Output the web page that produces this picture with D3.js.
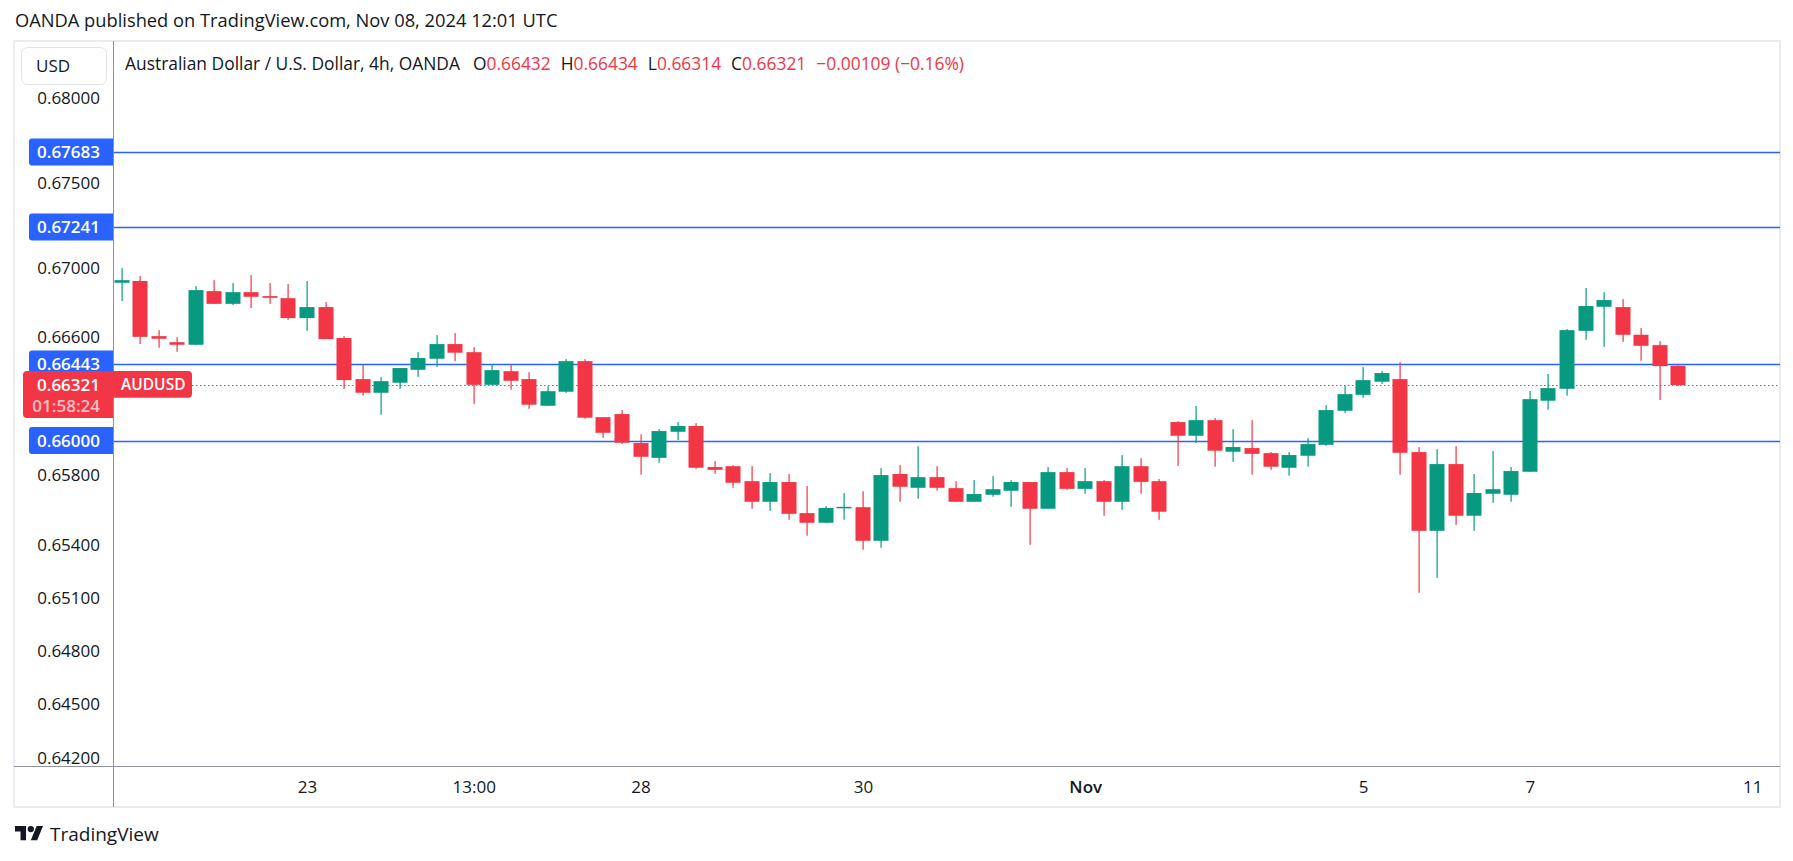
<!DOCTYPE html>
<html><head><meta charset="utf-8">
<script src="https://cdn.jsdelivr.net/npm/d3@7"></script>
<style>
html,body{margin:0;padding:0;background:#fff;}
svg{display:block;}
text{font-family:"Open Sans", Roboto, sans-serif;}
</style></head><body>
<svg id="chart" width="1793" height="861"></svg>
<script>
// ---------------- DATA ----------------
const open  = [0.66915,0.66925,0.66604,0.66569,0.66554,0.66866,0.66792,0.66860,0.66837,0.66825,
0.66709,0.66773,0.66593,0.66355,0.66276,0.66334,0.66409,0.66473,0.66558,0.66511,
0.66322,0.66401,0.66355,0.66201,0.66282,0.66459,0.66135,0.66153,0.65986,0.65901,
0.66051,0.66084,0.65848,0.65853,0.65767,0.65649,0.65762,0.65584,0.65529,0.65614,
0.65618,0.65426,0.65808,0.65729,0.65790,0.65727,0.65649,0.65689,0.65712,0.65762,
0.65609,0.65819,0.65723,0.65767,0.65649,0.65853,0.65767,0.66107,0.66028,0.66118,
0.65936,0.65957,0.65928,0.65844,0.65913,0.65976,0.66172,0.66264,0.66340,0.66355,
0.65934,0.65483,0.65865,0.65569,0.65695,0.65689,0.65821,0.66230,0.66299,0.66635,
0.66775,0.66773,0.66612,0.66552,0.66432];
const high  = [0.67000,0.66954,0.66639,0.66598,0.66895,0.66930,0.66913,0.66960,0.66913,0.66907,
0.66925,0.66802,0.66604,0.66436,0.66367,0.66419,0.66511,0.66610,0.66622,0.66540,
0.66442,0.66442,0.66395,0.66314,0.66471,0.66471,0.66135,0.66176,0.66037,0.66066,
0.66107,0.66101,0.65882,0.65859,0.65853,0.65813,0.65808,0.65739,0.65624,0.65699,
0.65710,0.65842,0.65859,0.65968,0.65853,0.65767,0.65773,0.65796,0.65773,0.65762,
0.65848,0.65842,0.65842,0.65773,0.65917,0.65899,0.65779,0.66112,0.66199,0.66130,
0.66066,0.66118,0.65934,0.65934,0.66014,0.66205,0.66315,0.66425,0.66401,0.66453,
0.65963,0.65951,0.65968,0.65808,0.65940,0.65848,0.66286,0.66384,0.66645,0.66884,
0.66860,0.66820,0.66651,0.66575,0.66434];
const low   = [0.66808,0.66558,0.66537,0.66513,0.66553,0.66791,0.66785,0.66767,0.66792,0.66699,
0.66635,0.66587,0.66299,0.66259,0.66149,0.66299,0.66368,0.66426,0.66459,0.66212,
0.66322,0.66293,0.66183,0.66201,0.66276,0.66126,0.66016,0.65980,0.65804,0.65873,
0.66003,0.65838,0.65809,0.65729,0.65609,0.65597,0.65546,0.65455,0.65529,0.65546,
0.65375,0.65386,0.65649,0.65666,0.65712,0.65649,0.65649,0.65678,0.65620,0.65403,
0.65609,0.65718,0.65695,0.65569,0.65603,0.65695,0.65546,0.65855,0.65988,0.65850,
0.65878,0.65804,0.65832,0.65798,0.65850,0.65970,0.66160,0.66247,0.66328,0.65804,
0.65130,0.65215,0.65517,0.65483,0.65643,0.65649,0.65821,0.66178,0.66259,0.66583,
0.66542,0.66571,0.66461,0.66234,0.66314];
const close = [0.66930,0.66600,0.66589,0.66554,0.66872,0.66792,0.66860,0.66833,0.66827,0.66709,
0.66773,0.66587,0.66349,0.66276,0.66343,0.66419,0.66477,0.66558,0.66508,0.66322,
0.66407,0.66345,0.66207,0.66285,0.66459,0.66132,0.66045,0.65988,0.65907,0.66055,
0.66084,0.65844,0.65832,0.65758,0.65649,0.65762,0.65580,0.65529,0.65613,0.65620,
0.65426,0.65802,0.65735,0.65790,0.65729,0.65649,0.65693,0.65721,0.65762,0.65609,
0.65819,0.65723,0.65767,0.65649,0.65853,0.65763,0.65592,0.66028,0.66118,0.65942,
0.65963,0.65924,0.65850,0.65917,0.65980,0.66176,0.66268,0.66349,0.66390,0.65930,
0.65483,0.65865,0.65569,0.65699,0.65721,0.65825,0.66239,0.66303,0.66639,0.66779,
0.66814,0.66612,0.66548,0.66430,0.66321];

const priceLevels = [0.67683, 0.67241, 0.66443, 0.66000];
const yTickValues = [0.680, 0.675, 0.670, 0.666, 0.658, 0.654, 0.651, 0.648, 0.645, 0.642];
const xTickLabels = ["23", "13:00", "28", "30", "Nov", "5", "7", "11"];
const xTickBars   = [10, 19, 28, 40, 52, 67, 76, 88];
const symbolTitle = "Australian Dollar / U.S. Dollar, 4h, OANDA";
const headerText  = "OANDA published on TradingView.com, Nov 08, 2024 12:01 UTC";
const symbolTag   = "AUDUSD";
const countdown   = "01:58:24";
const currency    = "USD";

// ---------------- LAYOUT ----------------
const RED = "#f23645", GREEN = "#089981", BLUE = "#2962ff", INK = "#131722";
const svg = d3.select("#chart");
const frame = {left: 14, top: 41, right: 1780, bottom: 807};
const plot  = {left: 113, top: 41, right: 1780, bottom: 766};

const y = d3.scaleLog().domain([0.642, 0.680]).range([757.7, 98.3]);
const x = d3.scaleLinear().domain([0, 84]).range([121.7, 1678.2]);
const bodyW = 15;

svg.append("rect").attr("width", 1793).attr("height", 861).attr("fill", "#fff");

// header
svg.append("text").attr("x", 15).attr("y", 21).attr("dy", "0.35em")
  .attr("font-size", 18.3).attr("fill", INK).text(headerText);

// frame
svg.append("rect").attr("x", frame.left).attr("y", frame.top)
  .attr("width", frame.right - frame.left).attr("height", frame.bottom - frame.top)
  .attr("fill", "none").attr("stroke", "#e9ebf1").attr("stroke-width", 2);

// clip
svg.append("clipPath").attr("id", "plotclip").append("rect")
  .attr("x", plot.left).attr("y", plot.top).attr("width", plot.right - plot.left).attr("height", plot.bottom - plot.top);
const pg = svg.append("g").attr("clip-path", "url(#plotclip)");

// level lines
pg.selectAll("line.level").data(priceLevels).join("line").attr("class", "level")
  .attr("x1", plot.left).attr("x2", plot.right)
  .attr("y1", d => Math.round(y(d)) + 0.5).attr("y2", d => Math.round(y(d)) + 0.5)
  .attr("stroke", BLUE).attr("stroke-width", 1.3);

// current price dotted line
const last = close.length - 1;
const cy = y(close[last]);
pg.append("line").attr("x1", 192).attr("x2", plot.right)
  .attr("y1", Math.round(cy) + 0.5).attr("y2", Math.round(cy) + 0.5)
  .attr("stroke", RED).attr("stroke-width", 1.2).attr("stroke-dasharray", "1.5,2.5");

// candles
const idx = d3.range(close.length);
const col = i => close[i] >= open[i] ? GREEN : RED;
pg.selectAll("rect.wick").data(idx).join("rect").attr("class", "wick")
  .attr("x", i => Math.round(x(i)) - 0.5).attr("width", 1.2)
  .attr("y", i => y(high[i])).attr("height", i => Math.max(1, y(low[i]) - y(high[i])))
  .attr("fill", col);
pg.selectAll("rect.body").data(idx).join("rect").attr("class", "body")
  .attr("x", i => Math.round(x(i)) - bodyW / 2).attr("width", bodyW)
  .attr("y", i => y(Math.max(open[i], close[i])))
  .attr("height", i => Math.max(1.5, Math.abs(y(open[i]) - y(close[i]))))
  .attr("fill", col);

// separators
svg.append("line").attr("x1", plot.left + 0.5).attr("x2", plot.left + 0.5)
  .attr("y1", frame.top).attr("y2", frame.bottom).attr("stroke", "#8f929b").attr("stroke-width", 1);
svg.append("line").attr("x1", frame.left).attr("x2", frame.right)
  .attr("y1", plot.bottom + 0.5).attr("y2", plot.bottom + 0.5).attr("stroke", "#8f929b").attr("stroke-width", 1);

// y axis
const yAxis = svg.append("g").attr("transform", "translate(104,0)")
  .call(d3.axisLeft(y).tickValues(yTickValues).tickFormat(d3.format(".5f")).tickSize(0).tickPadding(4));
yAxis.select(".domain").remove();
yAxis.selectAll("text").attr("font-size", 17).attr("fill", INK).attr("font-family", "\"Open Sans\", Roboto, sans-serif");

// level labels
const lab = svg.append("g");
priceLevels.forEach(v => {
  const yy = y(v);
  lab.append("path")
    .attr("d", `M113,${yy - 13.5} H32 Q29,${yy - 13.5} 29,${yy - 10.5} V${yy + 10.5} Q29,${yy + 13.5} 32,${yy + 13.5} H113 Z`)
    .attr("fill", BLUE);
  lab.append("text").attr("x", 100).attr("y", yy).attr("dy", "0.35em").attr("text-anchor", "end")
    .attr("font-size", 17).attr("font-weight", 600).attr("fill", "#fff").text(d3.format(".5f")(v));
});

// current price label
lab.append("path")
  .attr("d", `M113,${cy - 14} H27 Q23,${cy - 14} 23,${cy - 10} V${cy + 29} Q23,${cy + 33} 27,${cy + 33} H113 Z`)
  .attr("fill", RED);
lab.append("text").attr("x", 100).attr("y", cy).attr("dy", "0.35em").attr("text-anchor", "end")
  .attr("font-size", 17).attr("font-weight", 600).attr("fill", "#fff").text(d3.format(".5f")(close[last]));
lab.append("text").attr("x", 100).attr("y", cy + 21).attr("dy", "0.35em").attr("text-anchor", "end")
  .attr("font-size", 17).attr("font-weight", 600).attr("fill", "#fff").attr("fill-opacity", 0.7).text(countdown);
// symbol tag
lab.append("path")
  .attr("d", `M113,${cy - 14} H188 Q192,${cy - 14} 192,${cy - 10} V${cy + 8.7} Q192,${cy + 12.7} 188,${cy + 12.7} H113 Z`)
  .attr("fill", RED);
lab.append("text").attr("x", 121).attr("y", cy - 0.6).attr("dy", "0.35em")
  .attr("font-size", 15.5).attr("font-weight", 600).attr("fill", "#fff").text(symbolTag);

// USD button
svg.append("rect").attr("x", 21.5).attr("y", 47.5).attr("width", 85).attr("height", 37).attr("rx", 6)
  .attr("fill", "#fff").attr("stroke", "#e0e3eb");
svg.append("text").attr("x", 36).attr("y", 66).attr("dy", "0.35em").attr("font-size", 17).attr("fill", INK).text(currency);

// legend
const chg = close[last] - close[last - 1];
const pct = chg / close[last - 1] * 100;
const minus = s => s.replace("-", "\u2212");
const f5 = d3.format(".5f");
const leg = svg.append("text").attr("x", 125).attr("y", 64).attr("dy", "0.35em").attr("font-size", 17.4).attr("fill", INK);
leg.append("tspan").text(symbolTitle);
[["O", open[last]], ["H", high[last]], ["L", low[last]], ["C", close[last]]].forEach(([k, v], j) => {
  leg.append("tspan").attr("dx", j === 0 ? 13 : 10).attr("fill", INK).text(k);
  leg.append("tspan").attr("fill", RED).text(f5(v));
});
leg.append("tspan").attr("dx", 10).attr("fill", RED)
  .text(minus(f5(chg)) + " (" + minus(d3.format(".2f")(pct)) + "%)");

// x axis
const xAxis = svg.append("g").attr("transform", `translate(0,${plot.bottom})`)
  .call(d3.axisBottom(x).tickValues(xTickBars).tickFormat((d, i) => xTickLabels[i]).tickSize(0));
xAxis.select(".domain").remove();
xAxis.selectAll("text").attr("y", 21).attr("dy", "0.35em").attr("font-size", 17).attr("fill", INK)
  .attr("font-family", "\"Open Sans\", Roboto, sans-serif")
  .attr("font-weight", (d, i) => xTickLabels[i] === "Nov" ? 600 : 400);

// TradingView logo
const logo = svg.append("g").attr("transform", "translate(15,822.8) scale(0.79)").attr("fill", INK);
logo.append("path").attr("d", "M14 22H7V11H0V4h14v18zM28 22h-8l7.5-18h8L28 22z");
logo.append("circle").attr("cx", 20).attr("cy", 8).attr("r", 4);
svg.append("text").attr("x", 50).attr("y", 834).attr("dy", "0.35em").attr("font-size", 19).attr("fill", INK).text("TradingView");
</script></body></html>
